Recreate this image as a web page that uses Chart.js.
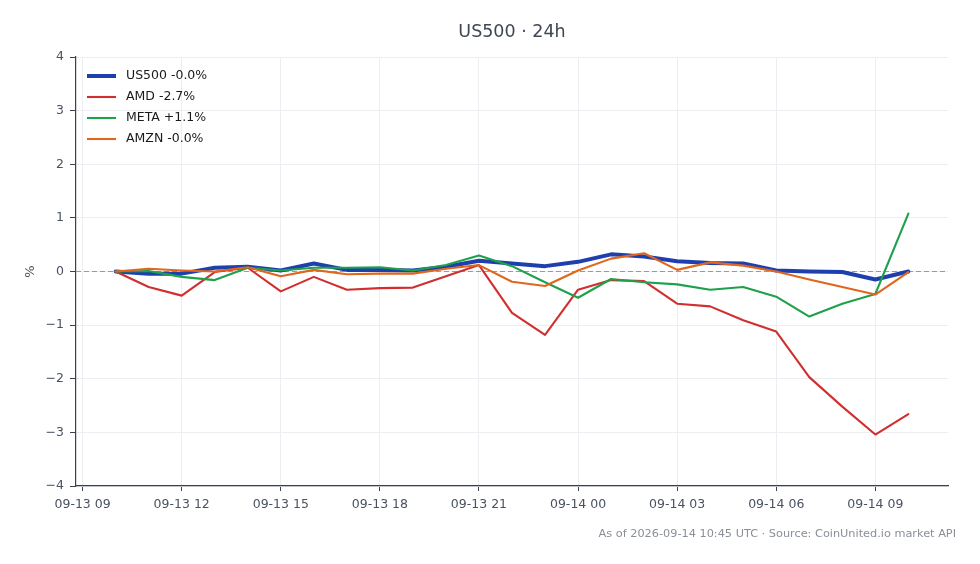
<!DOCTYPE html>
<html><head><meta charset="utf-8">
<script src="https://cdn.jsdelivr.net/npm/chart.js@4.4.0/dist/chart.umd.min.js"></script>
<style>html,body{margin:0;padding:0;background:#fff}#wrap{width:980px;height:564px;position:relative}</style>
</head><body><div id="wrap"><canvas id="c" width="980" height="564"></canvas></div>
<script>
const times = ["09-13 10","09-13 11","09-13 12","09-13 13","09-13 14","09-13 15","09-13 16","09-13 17","09-13 18","09-13 19","09-13 20","09-13 21","09-13 22","09-13 23","09-14 00","09-14 01","09-14 02","09-14 03","09-14 04","09-14 05","09-14 06","09-14 07","09-14 08","09-14 09","09-14 10"];
const us500 = [0, -0.04, -0.04, 0.07, 0.09, 0.02, 0.15, 0.03, 0.03, 0.02, 0.09, 0.20, 0.15, 0.10, 0.18, 0.32, 0.28, 0.19, 0.16, 0.15, 0.02, 0.00, -0.01, -0.15, 0.00];
const amd = [0, -0.29, -0.45, -0.01, 0.07, -0.37, -0.10, -0.34, -0.31, -0.30, -0.09, 0.12, -0.77, -1.18, -0.34, -0.16, -0.18, -0.60, -0.65, -0.91, -1.12, -1.97, -2.52, -3.04, -2.66];
const meta = [0, 0.01, -0.10, -0.16, 0.07, 0.02, 0.07, 0.07, 0.08, 0.02, 0.12, 0.30, 0.10, -0.20, -0.49, -0.14, -0.20, -0.24, -0.34, -0.29, -0.47, -0.84, -0.60, -0.42, 1.08];
const amzn = [0, 0.05, 0.02, 0.00, 0.08, -0.09, 0.03, -0.05, -0.04, -0.04, 0.05, 0.12, -0.19, -0.27, 0.02, 0.24, 0.34, 0.03, 0.17, 0.11, 0.00, -0.15, -0.29, -0.43, -0.01];
const seriesLabels = ["US500 -0.0%", "AMD -2.7%", "META +1.1%", "AMZN -0.0%"];
const xTickLabels = ["09-13 09","09-13 12","09-13 15","09-13 18","09-13 21","09-14 00","09-14 03","09-14 06","09-14 09"];
const yTicks = [-4,-3,-2,-1,0,1,2,3,4];
const titleText = "US500 · 24h";
const footerText = "As of 2026-09-14 10:45 UTC · Source: CoinUnited.io market API";

const FONT = "'DejaVu Sans', sans-serif";
function toHours(s){ const d = parseInt(s.slice(3,5),10); const h = parseInt(s.slice(6,8),10); return (d-13)*24 + h; }
const xs = times.map(toHours);
const span = xs[xs.length-1] - xs[0];
const xMin = xs[0] - span*0.05, xMax = xs[xs.length-1] + span*0.05;
const pts = arr => arr.map((v,i)=>({x: xs[i], y: v}));
const colors = ["#1e40af", "#d12f2f", "#1fa04b", "#e0661e"];
const widths = [4, 2.1, 2.1, 2.1];
const allSeries = [us500, amd, meta, amzn];

const datasets = allSeries.map((arr,i)=>({
  label: seriesLabels[i], data: pts(arr), borderColor: colors[i], backgroundColor: colors[i],
  borderWidth: widths[i], pointRadius: 0, tension: 0, borderJoinStyle: 'round', borderCapStyle: 'round',
  order: 4 - i
}));

const decor = {
  id: 'decor',
  beforeDatasetsDraw(chart){
    const {ctx, chartArea, scales} = chart;
    const y0 = scales.y.getPixelForValue(0);
    ctx.save();
    ctx.strokeStyle = '#8e9bb0'; ctx.lineWidth = 1.1; ctx.setLineDash([5,3]);
    ctx.beginPath(); ctx.moveTo(chartArea.left, y0); ctx.lineTo(chartArea.right, y0); ctx.stroke();
    ctx.restore();
  },
  afterDraw(chart){
    const {ctx, chartArea} = chart;
    ctx.save();
    ctx.fillStyle = '#3f4654'; ctx.font = "17.5px " + FONT; ctx.textAlign = 'center'; ctx.textBaseline = 'middle';
    ctx.fillText(titleText, (chartArea.left + chartArea.right)/2, 32);
    ctx.fillStyle = '#8a8f98'; ctx.font = "11.3px " + FONT; ctx.textAlign = 'right';
    ctx.fillText(footerText, 956, 534);
    ctx.font = "12.5px " + FONT; ctx.textAlign = 'left';
    const lx = chartArea.left + 11, ly = chartArea.top + 19;
    seriesLabels.forEach((lab,i)=>{
      const y = ly + i*21;
      ctx.strokeStyle = colors[i]; ctx.lineWidth = widths[i]; ctx.setLineDash([]);
      ctx.beginPath(); ctx.moveTo(lx, y); ctx.lineTo(lx+29, y); ctx.stroke();
      ctx.fillStyle = '#1a1a1a';
      ctx.fillText(lab, lx + 39, y);
    });
    ctx.restore();
  }
};

new Chart(document.getElementById('c'), {
  type: 'line',
  data: { datasets },
  options: {
    responsive: false, animation: false, devicePixelRatio: 1,
    layout: { padding: { left: 0, right: 32, top: 57, bottom: 0 } },
    plugins: { legend: { display: false }, tooltip: { enabled: false }, title: { display: false } },
    scales: {
      x: {
        type: 'linear', min: xMin, max: xMax,
        afterBuildTicks: s => { s.ticks = xTickLabels.map(t => ({ value: toHours(t) })); },
        afterFit: s => { s.height = 78; },
        ticks: { callback: (v) => { const i = xTickLabels.findIndex(t => toHours(t) === v); return i >= 0 ? xTickLabels[i] : ''; },
                 font: { family: FONT, size: 12.5 }, color: '#4a5260', padding: 6, maxRotation: 0, autoSkip: false },
        grid: { color: '#eceef2', lineWidth: 1, tickLength: 5, tickColor: '#3a4250', drawTicks: true },
        border: { color: '#3a4250', width: 1.2 }
      },
      y: {
        type: 'linear', min: -4, max: 4,
        afterBuildTicks: s => { s.ticks = yTicks.map(v => ({ value: v })); },
        afterFit: s => { s.width = 76; },
        ticks: { callback: v => v < 0 ? '\u2212' + Math.abs(v) : String(v), font: { family: FONT, size: 12.5 }, color: '#4a5260', padding: 6 },
        grid: { color: '#eceef2', lineWidth: 1, tickLength: 6, tickColor: '#3a4250' },
        border: { color: '#3a4250', width: 1.2 },
        title: { display: true, text: '%', font: { family: FONT, size: 13 }, color: '#4a5260', padding: { top: 23, bottom: 0 } }
      }
    }
  },
  plugins: [decor]
});
</script></body></html>
